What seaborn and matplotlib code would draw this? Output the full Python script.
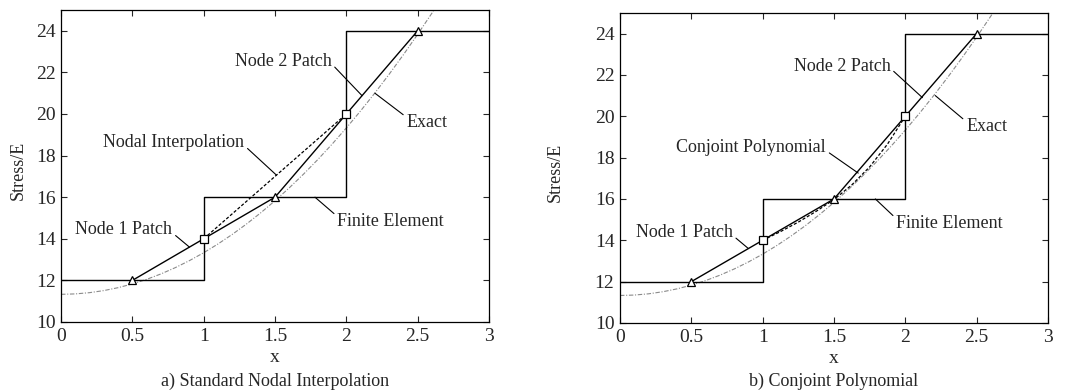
import numpy as np
import pandas as pd
import matplotlib
matplotlib.use("Agg")
import matplotlib.pyplot as plt
import seaborn as sns

# ---------------- data ----------------
exact_x = [0.0, 0.1, 0.2, 0.3, 0.4, 0.5, 0.6, 0.7, 0.8, 0.9, 1.0, 1.1, 1.2, 1.3,
           1.4, 1.5, 1.6, 1.7, 1.8, 1.9, 2.0, 2.1, 2.2, 2.3, 2.4, 2.5, 2.6, 2.65]
exact_y = [11.33, 11.35, 11.41, 11.51, 11.65, 11.83, 12.05, 12.31, 12.61, 12.95,
           13.33, 13.75, 14.21, 14.71, 15.25, 15.83, 16.45, 17.11, 17.81, 18.55,
           19.33, 20.15, 21.01, 21.91, 22.85, 23.83, 24.85, 25.4]

fe_x = [0, 1, 2, 3]
fe_y = [12, 16, 24, 24]

patch1_x = [0.5, 1.0, 1.5]
patch1_y = [12, 14, 16]
patch2_x = [1.5, 2.0, 2.5]
patch2_y = [16, 20, 24]

nodal_x = [1.0, 2.0]
nodal_y = [14, 20]

conj_x = [1.0, 1.125, 1.25, 1.375, 1.5, 1.625, 1.75, 1.875, 2.0]
conj_y = [14.0, 14.42, 14.88, 15.40, 15.97, 16.68, 17.55, 18.65, 20.0]

tri_x = [0.5, 1.5, 2.5]
tri_y = [12, 16, 24]
sq_x = [1.0, 2.0]
sq_y = [14, 20]

captions = ["a) Standard Nodal Interpolation", "b) Conjoint Polynomial"]

# ---------------- style ----------------
sns.set_theme(style="ticks")
plt.rcParams["font.family"] = ["Liberation Serif", "DejaVu Serif"]
plt.rcParams["axes.linewidth"] = 0.9

fig = plt.figure(figsize=(10.71, 3.91), dpi=100)
ax_a = fig.add_axes([0.057, 0.1765, 0.3996, 0.798])
ax_b = fig.add_axes([0.5789, 0.174, 0.3996, 0.793])

exact_style = dict(color="#8a8a8a", linewidth=0.8, linestyle=(0, (4, 1.5, 1, 1.5)))
line_style = dict(color="black", linewidth=1.0)


def draw_common(ax, ylab_x):
    sns.lineplot(x=exact_x, y=exact_y, ax=ax, **exact_style)
    sns.lineplot(x=fe_x, y=fe_y, ax=ax, drawstyle="steps-post", **line_style)
    sns.lineplot(x=patch1_x, y=patch1_y, ax=ax, **line_style)
    sns.lineplot(x=patch2_x, y=patch2_y, ax=ax, **line_style)
    ax.plot(tri_x, tri_y, linestyle="none", marker="^", markersize=6,
            markerfacecolor="white", markeredgecolor="black", markeredgewidth=0.9, zorder=5)
    ax.plot(sq_x, sq_y, linestyle="none", marker="s", markersize=6,
            markerfacecolor="white", markeredgecolor="black", markeredgewidth=0.9, zorder=5)
    ax.set_xlim(0, 3)
    ax.set_ylim(10, 25)
    ax.set_xticks([0, 0.5, 1, 1.5, 2, 2.5, 3])
    ax.set_xticklabels(["0", "0.5", "1", "1.5", "2", "2.5", "3"])
    ax.set_yticks([10, 12, 14, 16, 18, 20, 22, 24])
    ax.tick_params(direction="in", top=True, right=True, length=4, width=0.8,
                   labelsize=14, pad=4)
    for s in ax.spines.values():
        s.set_visible(True)
        s.set_color("black")
    ax.set_xlabel("x", fontsize=14)
    ax.set_ylabel("Stress/E", fontsize=13)
    ax.xaxis.set_label_coords(0.5, -0.115)
    ax.yaxis.set_label_coords(ylab_x, 0.485)
    ax.xaxis.label.set_va("center")
    ax.yaxis.label.set_va("center")


def label(ax, text, xytext, xy, relpos):
    ax.annotate(text, xy=xy, xytext=xytext, textcoords="data", ha="center", va="center",
                fontsize=13,
                arrowprops=dict(arrowstyle="-", color="black", lw=0.8, relpos=relpos,
                                shrinkA=0, shrinkB=0))


# panel a
draw_common(ax_a, -0.100)
sns.lineplot(x=nodal_x, y=nodal_y, ax=ax_a, color="black", linewidth=0.9, linestyle=(0, (2.5, 1.5)))
label(ax_a, "Node 2 Patch", (1.556, 22.5), (2.11, 20.88), (1.0, 0.4))
label(ax_a, "Exact", (2.565, 19.6), (2.2, 21.0), (0.0, 0.8))
label(ax_a, "Nodal Interpolation", (0.79, 18.65), (1.51, 17.06), (1.0, 0.3))
label(ax_a, "Finite Element", (2.31, 14.83), (1.78, 16.0), (0.0, 0.8))
label(ax_a, "Node 1 Patch", (0.44, 14.45), (0.9, 13.6), (1.0, 0.3))

# panel b
draw_common(ax_b, -0.152)
sns.lineplot(x=conj_x, y=conj_y, ax=ax_b, color="black", linewidth=0.9, linestyle=(0, (2.5, 1.5)))
label(ax_b, "Node 2 Patch", (1.556, 22.4), (2.12, 20.9), (1.0, 0.4))
label(ax_b, "Exact", (2.57, 19.5), (2.21, 21.0), (0.0, 0.8))
label(ax_b, "Conjoint Polynomial", (0.92, 18.5), (1.67, 17.25), (1.0, 0.3))
label(ax_b, "Finite Element", (2.31, 14.8), (1.79, 16.0), (0.0, 0.8))
label(ax_b, "Node 1 Patch", (0.45, 14.4), (0.9, 13.6), (1.0, 0.3))

for ax, cap in zip([ax_a, ax_b], captions):
    pos = ax.get_position()
    fig.text((pos.x0 + pos.x1) / 2, 1 - 381 / 391, cap, ha="center", va="center", fontsize=13)

fig.savefig("out.png", dpi=100)
